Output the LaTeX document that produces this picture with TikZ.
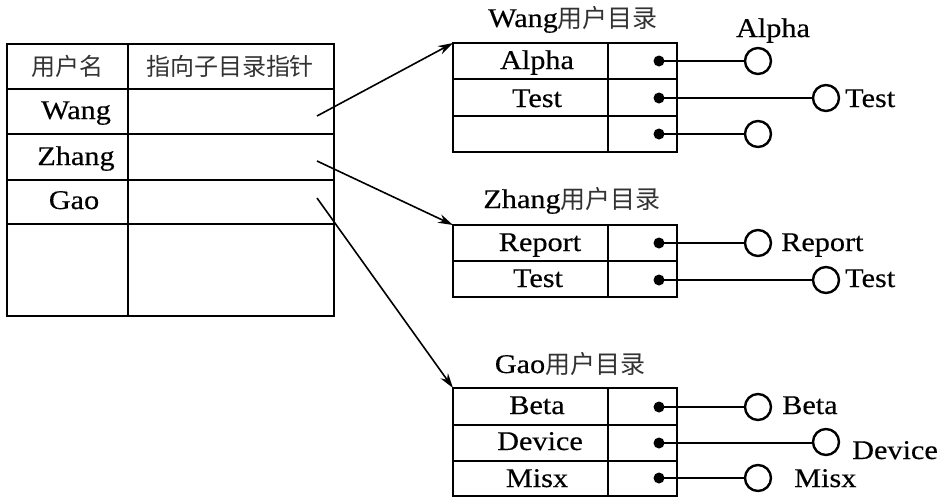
\documentclass[tikz,border=0pt]{standalone}
\usepackage{fontspec}
\setmainfont{Liberation Serif}[FakeStretch=1.12,FakeBold=0.4]
\newfontfamily\cjk{Noto Sans CJK SC}
\usetikzlibrary{arrows.meta}
\begin{document}
\begin{tikzpicture}[x=1pt,y=-1pt,
  tab/.style={line width=2.8pt},
  lbl/.style={font=\fontsize{27}{30}\selectfont, inner sep=0, anchor=base},
  lblw/.style={font=\fontsize{27}{30}\selectfont, inner sep=0, anchor=base west},
  cj/.style={font=\cjk\fontsize{24}{26}\selectfont, color=black!80, inner sep=0},
  blob/.style={fill=black},
  ring/.style={circle,draw,line width=2.4pt,inner sep=0,minimum size=26pt},
  link/.style={line width=1.7pt},
  ptr/.style={line width=1.6pt,-{Stealth[length=15pt,width=9pt]}}]
\useasboundingbox (0,0) rectangle (938,501);

% left table
\draw[tab] (7,44) rectangle (334,316);
\draw[tab] (128,44) -- (128,316);
\foreach \y in {89,134,180,224} \draw[tab] (7,\y) -- (334,\y);
\node[cj] (h1) at (67,66) {用户名};
\node[cj] (h2) at (230,66) {指向子目录指针};
\node[lbl] (u1) at (76,119) {Wang};
\node[lbl] (u2) at (76,165) {Zhang};
\node[lbl] (u3) at (74,209) {Gao};
\coordinate (p1) at (317,116);
\coordinate (p2) at (317,161);
\coordinate (p3) at (317,198);

% Wang directory
\node[lbl] (wt) at (573,27) {Wang{\cjk\fontsize{25}{27}\selectfont\color{black!80}用户目录}};
\draw[tab] (453,43) rectangle (677,152);
\draw[tab] (608,43) -- (608,152);
\draw[tab] (453,79) -- (677,79);
\draw[tab] (453,116) -- (677,116);
\coordinate (w) at (453,43);
\node[lbl] (wa) at (537,69) {Alpha};
\node[lbl] (wb) at (537,107) {Test};
\coordinate (wd1) at (659,61);
\coordinate (wd2) at (659,98);
\coordinate (wd3) at (659,134);
\node[ring] (wr1) at (758,61) {};
\node[ring] (wr2) at (826,98) {};
\node[ring] (wr3) at (758,134) {};
\draw[link] (wd1) -- (wr1);
\draw[link] (wd2) -- (wr2);
\draw[link] (wd3) -- (wr3);
\foreach \d in {wd1,wd2,wd3} \fill[blob] (\d) circle[radius=5.5pt];
\node[lbl] (wl1) at (773,37) {Alpha};
\node[lblw] (wl2) at (845,107) {Test};

% Zhang directory
\node[lbl] (zt) at (572,208) {Zhang{\cjk\fontsize{25}{27}\selectfont\color{black!80}用户目录}};
\draw[tab] (453,225) rectangle (677,297);
\draw[tab] (608,225) -- (608,297);
\draw[tab] (453,261) -- (677,261);
\coordinate (z) at (453,225);
\node[lbl] (za) at (540,251) {Report};
\node[lbl] (zb) at (538,287) {Test};
\coordinate (zd1) at (659,243);
\coordinate (zd2) at (659,280);
\node[ring] (zr1) at (758,243) {};
\node[ring] (zr2) at (826,280) {};
\draw[link] (zd1) -- (zr1);
\draw[link] (zd2) -- (zr2);
\foreach \d in {zd1,zd2} \fill[blob] (\d) circle[radius=5.5pt];
\node[lblw] (zl1) at (781,251) {Report};
\node[lblw] (zl2) at (845,287) {Test};

% Gao directory
\node[lbl] (gt) at (570,373) {Gao{\cjk\fontsize{25}{27}\selectfont\color{black!80}用户目录}};
\draw[tab] (453,388) rectangle (677,496);
\draw[tab] (608,388) -- (608,496);
\draw[tab] (453,425) -- (677,425);
\draw[tab] (453,461) -- (677,461);
\coordinate (g) at (453,388);
\node[lbl] (ga) at (537,414) {Beta};
\node[lbl] (gb) at (540,450) {Device};
\node[lbl] (gc) at (537,487) {Misx};
\coordinate (gd1) at (659,407);
\coordinate (gd2) at (659,443);
\coordinate (gd3) at (659,478);
\node[ring] (gr1) at (758,407) {};
\node[ring] (gr2) at (826,442) {};
\node[ring] (gr3) at (758,478) {};
\draw[link] (gd1) -- (gr1);
\draw[link] (gd2) -- (gd2 -| gr2.west);
\draw[link] (gd3) -- (gr3);
\foreach \d in {gd1,gd2,gd3} \fill[blob] (\d) circle[radius=5.5pt];
\node[lblw] (gl1) at (782,414) {Beta};
\node[lblw] (gl2) at (852,459) {Device};
\node[lblw] (gl3) at (794,487) {Misx};

% pointers
\draw[ptr] (p1) -- (w);
\draw[ptr] (p2) -- (z);
\draw[ptr] (p3) -- (g);
\end{tikzpicture}
\end{document}
